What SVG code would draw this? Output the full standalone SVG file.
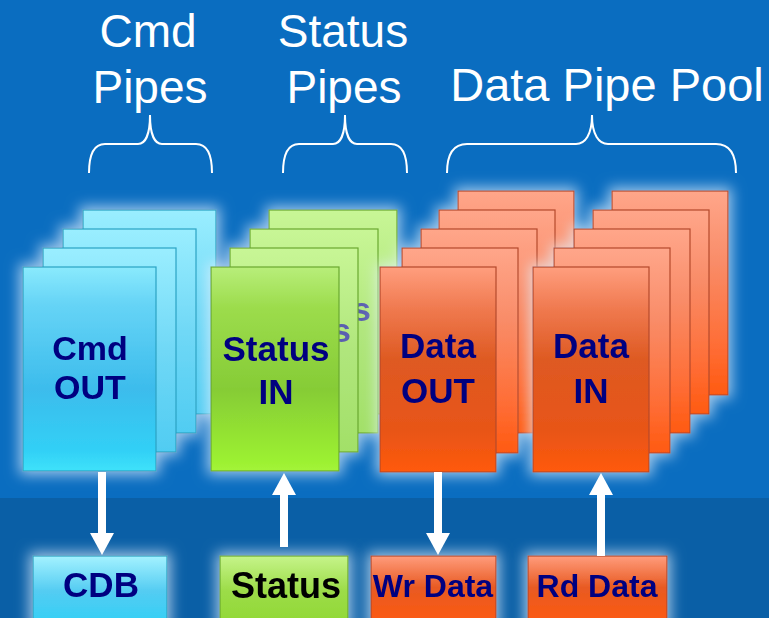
<svg xmlns="http://www.w3.org/2000/svg" width="769" height="618" viewBox="0 0 769 618">
  <defs>
    <linearGradient id="cyanFront" x1="0" y1="0" x2="0" y2="1">
      <stop offset="0" stop-color="#8aeafd"/>
      <stop offset="0.18" stop-color="#66d4f6"/>
      <stop offset="0.6" stop-color="#3cbcec"/>
      <stop offset="0.9" stop-color="#32d0f6"/>
      <stop offset="1" stop-color="#3ee2fa"/>
    </linearGradient>
    <linearGradient id="cyanBack" x1="0" y1="0" x2="0" y2="1">
      <stop offset="0" stop-color="#9aeeff"/>
      <stop offset="0.5" stop-color="#70d8f6"/>
      <stop offset="1" stop-color="#50ccf2"/>
    </linearGradient>
    <linearGradient id="greenFront" x1="0" y1="0" x2="0" y2="1">
      <stop offset="0" stop-color="#b8ee7a"/>
      <stop offset="0.2" stop-color="#9cdc4c"/>
      <stop offset="0.6" stop-color="#86cc36"/>
      <stop offset="0.95" stop-color="#9cf030"/>
      <stop offset="1" stop-color="#a4f43a"/>
    </linearGradient>
    <linearGradient id="greenBack" x1="0" y1="0" x2="0" y2="1">
      <stop offset="0" stop-color="#c8f696"/>
      <stop offset="0.5" stop-color="#b0e67c"/>
      <stop offset="1" stop-color="#a2e068"/>
    </linearGradient>
    <linearGradient id="orangeFront" x1="0" y1="0" x2="0" y2="1">
      <stop offset="0" stop-color="#ff9e7e"/>
      <stop offset="0.2" stop-color="#f07a50"/>
      <stop offset="0.45" stop-color="#de5a22"/>
      <stop offset="0.8" stop-color="#e85518"/>
      <stop offset="1" stop-color="#ff5a0a"/>
    </linearGradient>
    <linearGradient id="orangeBack" x1="0" y1="0" x2="0" y2="1">
      <stop offset="0" stop-color="#ffa68a"/>
      <stop offset="0.35" stop-color="#f98c68"/>
      <stop offset="0.8" stop-color="#ff6a30"/>
      <stop offset="1" stop-color="#ff5a10"/>
    </linearGradient>
    <linearGradient id="cyanBox" x1="0" y1="0" x2="0" y2="1">
      <stop offset="0" stop-color="#a4f2ff"/>
      <stop offset="0.5" stop-color="#54ccf2"/>
      <stop offset="1" stop-color="#30d0f6"/>
    </linearGradient>
    <linearGradient id="greenBox" x1="0" y1="0" x2="0" y2="1">
      <stop offset="0" stop-color="#c6f48a"/>
      <stop offset="0.5" stop-color="#9cdc48"/>
      <stop offset="1" stop-color="#90d834"/>
    </linearGradient>
    <linearGradient id="orangeBox" x1="0" y1="0" x2="0" y2="1">
      <stop offset="0" stop-color="#ff9c7c"/>
      <stop offset="0.45" stop-color="#e85a22"/>
      <stop offset="1" stop-color="#ff5a10"/>
    </linearGradient>
    <!-- soft pale halo behind each stack and buffer -->
    <filter id="glow" x="-25%" y="-25%" width="150%" height="150%">
      <feMorphology in="SourceAlpha" operator="dilate" radius="3" result="d"/>
      <feGaussianBlur in="d" stdDeviation="7" result="b"/>
      <feFlood flood-color="#e4f2ff" flood-opacity="0.7"/>
      <feComposite in2="b" operator="in" result="g"/>
      <feMerge>
        <feMergeNode in="g"/>
        <feMergeNode in="SourceGraphic"/>
      </feMerge>
    </filter>
    <marker id="head" viewBox="0 0 22 24" markerWidth="22" markerHeight="24" refX="0" refY="12" orient="auto" markerUnits="userSpaceOnUse">
      <path d="M0,0 L22,12 L0,24 z" fill="#ffffff"/>
    </marker>
    <style>
      .title { font-family: "Liberation Sans", Arial, sans-serif; font-size: 46px; fill: #ffffff; text-anchor: middle; }
      .lbl { font-family: "Liberation Sans", Arial, sans-serif; font-weight: bold; font-size: 34px; fill: #000080; text-anchor: middle; }
      .ghost { font-family: "Liberation Sans", Arial, sans-serif; font-weight: bold; font-size: 34px; fill: #5a5fb0; }
      .box { font-family: "Liberation Sans", Arial, sans-serif; font-weight: bold; font-size: 32px; fill: #000080; text-anchor: middle; }
      .brace { fill: none; stroke: #ffffff; stroke-width: 2; }
      .cc { stroke: #2aa2c4; stroke-width: 1.2; }
      .cg { stroke: #6aa830; stroke-width: 1.2; }
      .co { stroke: #b44a2c; stroke-width: 1.2; }
      .conn { stroke: #ffffff; stroke-width: 8; fill: none; marker-end: url(#head); }
    </style>
  </defs>

  <!-- background -->
  <rect x="0" y="0" width="769" height="498" fill="#0a6dc0"/>
  <rect x="0" y="498" width="769" height="120" fill="#0a5fa6"/>

  <!-- headings and braces -->
  <g id="heading-cmd">
    <text class="title" x="148" y="47">Cmd</text>
    <text class="title" x="150" y="103">Pipes</text>
    <path class="brace" d="M89,173 C89,155 93,144 105,144 L138,144 C145,144 150,135 150,115 C150,135 155,144 162,144 L196,144 C207,144 212,155 212,173"/>
  </g>
  <g id="heading-status">
    <text class="title" x="343" y="47">Status</text>
    <text class="title" x="344" y="103">Pipes</text>
    <path class="brace" d="M283,173 C283,155 287,144 299,144 L333,144 C340,144 345,135 345,115 C345,135 350,144 357,144 L391,144 C403,144 407,155 407,173"/>
  </g>
  <g id="heading-data">
    <text class="title" x="607" y="101" style="font-size:47px">Data Pipe Pool</text>
    <path class="brace" d="M447,173 C447,155 453,144 467,144 L576,144 C585,144 592,135 592,115 C592,135 599,144 608,144 L716,144 C730,144 736,155 736,173"/>
  </g>

  <!-- command pipe stack -->
  <g id="cmd-out" filter="url(#glow)">
    <rect class="cc" x="83" y="210" width="133" height="204" fill="url(#cyanBack)"/>
    <rect class="cc" x="63" y="229" width="133" height="204" fill="url(#cyanBack)"/>
    <rect class="cc" x="43" y="248" width="133" height="204" fill="url(#cyanBack)"/>
    <rect class="cc" x="23" y="267" width="133" height="204" fill="url(#cyanFront)"/>
    <text class="lbl" x="90" y="360">Cmd</text>
    <text class="lbl" x="90" y="399">OUT</text>
  </g>

  <!-- status pipe stack -->
  <g id="status-in" filter="url(#glow)">
    <rect class="cg" x="269" y="210" width="128" height="204" fill="url(#greenBack)"/>
    <rect class="cg" x="250" y="229" width="128" height="204" fill="url(#greenBack)"/>
    <text class="ghost" x="352" y="321">s</text>
    <rect class="cg" x="230" y="248" width="128" height="204" fill="url(#greenBack)"/>
    <text class="ghost" x="332" y="342">s</text>
    <rect class="cg" x="211" y="267" width="128" height="204" fill="url(#greenFront)"/>
    <text class="lbl" x="276" y="361" style="font-size:35px">Status</text>
    <text class="lbl" x="276" y="404" style="font-size:35px">IN</text>
  </g>

  <!-- data pipe pool: outbound stack -->
  <g id="data-out" filter="url(#glow)">
    <rect class="co" x="458" y="191" width="116" height="204" fill="url(#orangeBack)"/>
    <rect class="co" x="439" y="210" width="116" height="204" fill="url(#orangeBack)"/>
    <rect class="co" x="421" y="229" width="116" height="204" fill="url(#orangeBack)"/>
    <rect class="co" x="402" y="248" width="116" height="205" fill="url(#orangeBack)"/>
    <rect class="co" x="380" y="267" width="116" height="205" fill="url(#orangeFront)"/>
    <text class="lbl" x="438" y="358" style="font-size:35px">Data</text>
    <text class="lbl" x="438" y="403" style="font-size:35px">OUT</text>
  </g>

  <!-- data pipe pool: inbound stack -->
  <g id="data-in" filter="url(#glow)">
    <rect class="co" x="612" y="191" width="116" height="204" fill="url(#orangeBack)"/>
    <rect class="co" x="593" y="210" width="116" height="204" fill="url(#orangeBack)"/>
    <rect class="co" x="574" y="229" width="116" height="204" fill="url(#orangeBack)"/>
    <rect class="co" x="554" y="248" width="116" height="205" fill="url(#orangeBack)"/>
    <rect class="co" x="533" y="267" width="116" height="205" fill="url(#orangeFront)"/>
    <text class="lbl" x="591" y="358" style="font-size:35px">Data</text>
    <text class="lbl" x="591" y="403" style="font-size:35px">IN</text>
  </g>

  <!-- host-side buffers -->
  <g id="cdb" filter="url(#glow)">
    <rect class="cc" x="33" y="556" width="134" height="70" fill="url(#cyanBox)"/>
    <text class="box" x="101" y="597" style="font-size:35px">CDB</text>
  </g>
  <g id="status-buf" filter="url(#glow)">
    <rect class="cg" x="220" y="556" width="128" height="70" fill="url(#greenBox)"/>
    <text class="box" x="286" y="598" style="font-size:36px;fill:#000000">Status</text>
  </g>
  <g id="wr-data" filter="url(#glow)">
    <rect class="co" x="371" y="556" width="125" height="70" fill="url(#orangeBox)"/>
    <text class="box" x="433" y="597">Wr Data</text>
  </g>
  <g id="rd-data" filter="url(#glow)">
    <rect class="co" x="528" y="556" width="139" height="70" fill="url(#orangeBox)"/>
    <text class="box" x="597" y="597">Rd Data</text>
  </g>

  <!-- connectors -->
  <g id="connectors">
    <path class="conn" d="M102,472 L102,533"/>
    <path class="conn" d="M284,547 L284,495"/>
    <path class="conn" d="M438,472 L438,533"/>
    <path class="conn" d="M601,556 L601,495"/>
  </g>
</svg>
